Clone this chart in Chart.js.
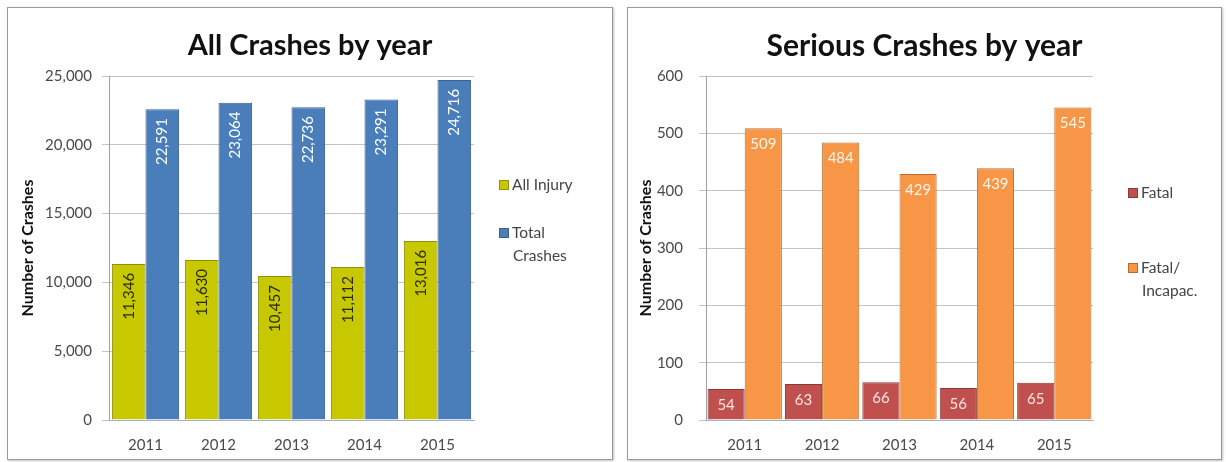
<!DOCTYPE html>
<html>
<head>
<meta charset="utf-8">
<script src="https://cdn.jsdelivr.net/npm/chart.js@4.4.1/dist/chart.umd.min.js"></script>
<style>
  body { margin: 0; background: #fff; width: 1226px; height: 462px; position: relative; overflow: hidden; }
  .panel { position: absolute; top: 7px; border: 1px solid #9a9a9a; box-shadow: 1px 1px 2px rgba(0,0,0,0.25); background: #fff; }
  .panel canvas { display: block; }
  #leftPanel { left: 7px; width: 604px; height: 451px; }
  #rightPanel { left: 627px; width: 593px; height: 451px; }
</style>
</head>
<body>
<div class="panel" id="leftPanel"><canvas id="allCrashes" width="604" height="451"></canvas></div>
<div class="panel" id="rightPanel"><canvas id="seriousCrashes" width="593" height="451"></canvas></div>
<script>
const years = ["2011", "2012", "2013", "2014", "2015"];

// All crashes
const allInjury = [11346, 11630, 10457, 11112, 13016];
const totalCrashes = [22591, 23064, 22736, 23291, 24716];

// Serious crashes
const fatal = [54, 63, 66, 56, 65];
const fatalIncapac = [509, 484, 429, 439, 545];

const FONT = "Lato, 'Open Sans', sans-serif";

// title, value labels and legend drawn on the canvas
function panelPlugin(opts) {
  return {
    id: "panel",
    afterDatasetsDraw(chart) {
      const ctx = chart.ctx;
      chart.data.datasets.forEach((ds, i) => {
        const meta = chart.getDatasetMeta(i);
        meta.data.forEach((bar, j) => {
          const text = ds.data[j].toLocaleString("en-US");
          ctx.save();
          ctx.fillStyle = ds.labelColor;
          ctx.font = "15px " + FONT;
          ctx.textBaseline = "middle";
          if (opts.vertical) {
            ctx.translate(bar.x, bar.y + 9);
            ctx.rotate(-Math.PI / 2);
            ctx.textAlign = "right";
          } else {
            ctx.translate(bar.x, bar.y + 16);
            ctx.textAlign = "center";
          }
          ctx.fillText(text, 0, 0);
          ctx.restore();
        });
      });
    },
    afterDraw(chart) {
      const ctx = chart.ctx;
      ctx.save();
      ctx.fillStyle = "#111";
      ctx.font = "bold " + opts.titleSize + "px " + FONT;
      ctx.textAlign = "center";
      ctx.textBaseline = "middle";
      ctx.fillText(opts.title, chart.width / 2, 38);

      ctx.font = "15.5px " + FONT;
      ctx.textAlign = "left";
      opts.legend.forEach(item => {
        ctx.fillStyle = item.color;
        ctx.fillRect(item.x, item.y - 5, 10, 10);
        ctx.strokeStyle = item.border;
        ctx.lineWidth = 1;
        ctx.strokeRect(item.x + 0.5, item.y - 4.5, 9, 9);
        ctx.fillStyle = "#444";
        item.lines.forEach((line, k) => {
          ctx.fillText(line, item.x + 13 + (k ? 1 : 0), item.y + k * 23);
        });
      });
      ctx.restore();
    }
  };
}

function makeChart(id, cfg) {
  return new Chart(document.getElementById(id), {
    type: "bar",
    data: {
      labels: years,
      datasets: cfg.datasets
    },
    options: {
      responsive: false,
      animation: false,
      layout: { padding: { top: 68, right: cfg.padRight, bottom: 0, left: 0 } },
      datasets: {
        bar: { categoryPercentage: cfg.catPct, barPercentage: 1.0, borderWidth: 1 }
      },
      plugins: {
        legend: { display: false },
        title: { display: false },
        tooltip: { enabled: false }
      },
      scales: {
        x: {
          grid: { display: false, drawTicks: false },
          border: { display: true, color: "#a7b1c6" },
          ticks: { color: "#4a4a4a", font: { family: FONT, size: 15 }, padding: 16 },
          afterFit(scale) { scale.height = 39; }
        },
        y: {
          min: 0,
          max: cfg.max,
          ticks: {
            stepSize: cfg.step,
            color: "#4a4a4a",
            font: { family: FONT, size: 15 },
            padding: cfg.tickPad,
            callback: v => v.toLocaleString("en-US")
          },
          grid: { color: "#c3c3c3", tickLength: 7 },
          border: { display: true, color: "#a0a0a0" },
          title: {
            display: true,
            text: "Number of Crashes",
            color: "#111",
            font: { family: FONT, size: 16, weight: "bold" },
            padding: { top: cfg.titlePad, bottom: 0 }
          },
          afterFit(scale) { scale.width = cfg.yWidth; }
        }
      }
    },
    plugins: [panelPlugin(cfg.panel)]
  });
}

makeChart("allCrashes", {
  max: 25000, step: 5000, tickPad: 10, titlePad: 10.4, yWidth: 101, padRight: 138, catPct: 0.92,
  datasets: [
    { label: "All Injury", data: allInjury, backgroundColor: "#c8c800", borderColor: "#8f8f10", labelColor: "#2a2a10" },
    { label: "Total Crashes", data: totalCrashes, backgroundColor: "#4a7ebb", borderColor: "#3a6192", labelColor: "#ffffff" }
  ],
  panel: {
    title: "All Crashes by year",
    titleSize: 29,
    vertical: true,
    legend: [
      { x: 491, y: 177, color: "#c8c800", border: "#8f8f10", lines: ["All Injury"] },
      { x: 491, y: 225, color: "#4a7ebb", border: "#3a6192", lines: ["Total", "Crashes"] }
    ]
  }
});

makeChart("seriousCrashes", {
  max: 600, step: 100, tickPad: 16, titlePad: 8.4, yWidth: 78, padRight: 128, catPct: 0.96,
  datasets: [
    { label: "Fatal", data: fatal, backgroundColor: "#c0504d", borderColor: "#8c3836", labelColor: "#fbe3e3" },
    { label: "Fatal/ Incapac.", data: fatalIncapac, backgroundColor: "#f79646", borderColor: "#b86d30", labelColor: "#fff4e8" }
  ],
  panel: {
    title: "Serious Crashes by year",
    titleSize: 30,
    vertical: false,
    legend: [
      { x: 500, y: 185, color: "#c0504d", border: "#8c3836", lines: ["Fatal"] },
      { x: 500, y: 260, color: "#f79646", border: "#b86d30", lines: ["Fatal/", "Incapac."] }
    ]
  }
});
</script>
</body>
</html>
